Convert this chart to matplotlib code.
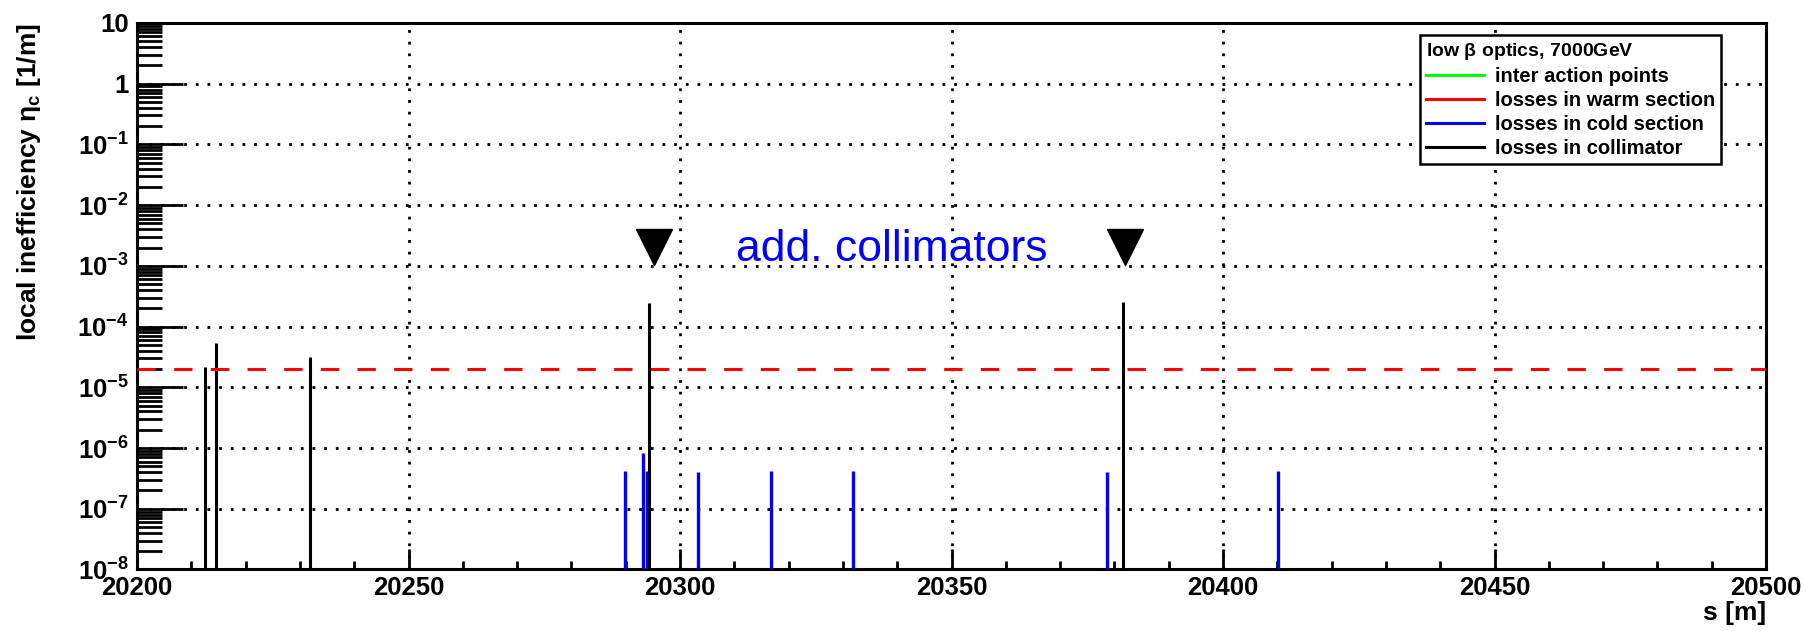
import numpy as np
import matplotlib
matplotlib.use("Agg")
import matplotlib.pyplot as plt
from matplotlib.ticker import MultipleLocator, LogLocator, NullFormatter, FuncFormatter
from matplotlib.lines import Line2D

plt.rcParams['font.family'] = ['Liberation Sans', 'DejaVu Sans']
plt.rcParams['font.weight'] = 'bold'
plt.rcParams['axes.labelweight'] = 'bold'
plt.rcParams['mathtext.fontset'] = 'custom'
plt.rcParams['mathtext.rm'] = 'Liberation Sans:bold'
plt.rcParams['mathtext.it'] = 'Liberation Sans:bold'
plt.rcParams['mathtext.bf'] = 'Liberation Sans:bold'

# losses in collimators (black spikes)
coll_s = [20212.6, 20214.5, 20231.9, 20294.3, 20381.5]
coll_eta = [2.2e-5, 5.3e-5, 3.2e-5, 2.45e-4, 2.55e-4]
# losses in cold sections (blue spikes)
cold_s = [20289.8, 20293.2, 20293.9, 20303.3, 20316.8, 20331.9, 20378.6, 20410.1]
cold_eta = [4.25e-7, 8.2e-7, 4.25e-7, 4.0e-7, 4.25e-7, 4.25e-7, 4.0e-7, 4.25e-7]
# quench limit line
limit_eta = 2e-5
# markers for the additional collimators
marker_s = [20295.3, 20382.0]
marker_eta = [2.07e-3, 2.07e-3]
note_s, note_eta = 20310.4, 1.18e-3

s_range = (20200, 20500)
eta_range = (1e-8, 10)

fig = plt.figure(figsize=(18.05, 6.31), dpi=100)
ax = fig.add_axes([0.0759, 0.0975, 0.9025, 0.8661])
ax.set_yscale('log')
ax.set_xlim(*s_range)
ax.set_ylim(*eta_range)

dotted = (0, (1, 3.2))
ax.grid(True, which='major', color='black', linestyle=dotted, linewidth=2.0)

ax.vlines(cold_s, eta_range[0], cold_eta, colors='#0000ff', linewidth=2.4, zorder=3)
ax.vlines(coll_s, eta_range[0], coll_eta, colors='black', linewidth=2.2, zorder=4)
ax.axhline(limit_eta, color='#ff0000', linewidth=2.2, dashes=(6, 6), zorder=5)

ax.plot(marker_s, marker_eta, linestyle='none', marker='v', markersize=26,
        color='black', zorder=6)
ax.text(note_s, note_eta, 'add. collimators', color='#0000ff', fontsize=32,
        fontweight='normal', ha='left', va='baseline', zorder=6)

# axes style (ROOT-like)
for side in ['left', 'right', 'top', 'bottom']:
    ax.spines[side].set_linewidth(2.2)
ax.xaxis.set_major_locator(MultipleLocator(50))
ax.xaxis.set_minor_locator(MultipleLocator(10))
ax.yaxis.set_major_locator(LogLocator(base=10, numticks=20))
ax.yaxis.set_minor_locator(LogLocator(base=10, subs=np.arange(2, 10), numticks=20))
ax.yaxis.set_minor_formatter(NullFormatter())


def eta_label(v, pos):
    e = int(round(np.log10(v)))
    if e == 1:
        return '10'
    if e == 0:
        return '1'
    return r'$10^{%d}$' % e


ax.yaxis.set_major_formatter(FuncFormatter(eta_label))
ax.tick_params(axis='x', which='major', direction='in', length=14.5, width=2.0,
               labelsize=18.5, pad=5, top=False)
ax.tick_params(axis='x', which='minor', direction='in', length=6, width=2.0, top=False)
ax.tick_params(axis='y', which='major', direction='in', length=33, width=2.0,
               labelsize=18.5, pad=6, right=False)
ax.tick_params(axis='y', which='minor', direction='in', length=18, width=2.0, right=False)

ax.set_xlabel('s [m]', fontsize=19, loc='right')
ax.xaxis.set_label_coords(1.0, -0.058)
ax.set_ylabel(r'local inefficiency $\eta_{c}$ [1/m]', fontsize=19, loc='top')
ax.yaxis.set_label_coords(-0.058, 1.0)

handles = [Line2D([], [], color='#00ff00', linewidth=2.2),
           Line2D([], [], color='#ff0000', linewidth=2.2),
           Line2D([], [], color='#0000ff', linewidth=2.2),
           Line2D([], [], color='black', linewidth=2.2)]
labels = ['inter action points', 'losses in warm section',
          'losses in cold section', 'losses in collimator']
leg = ax.legend(handles, labels, title=r'low $\beta$ optics, 7000GeV',
                loc='upper left', bbox_to_anchor=(0.7876, 0.978), borderaxespad=0,
                fontsize=14.5, title_fontsize=14, alignment='left',
                fancybox=False, framealpha=1, edgecolor='black',
                handlelength=2.9, handletextpad=0.5, labelspacing=0.25,
                borderpad=0.3)
leg.get_frame().set_linewidth(1.8)
leg.set_zorder(10)

fig.savefig('out.png', dpi=100)
